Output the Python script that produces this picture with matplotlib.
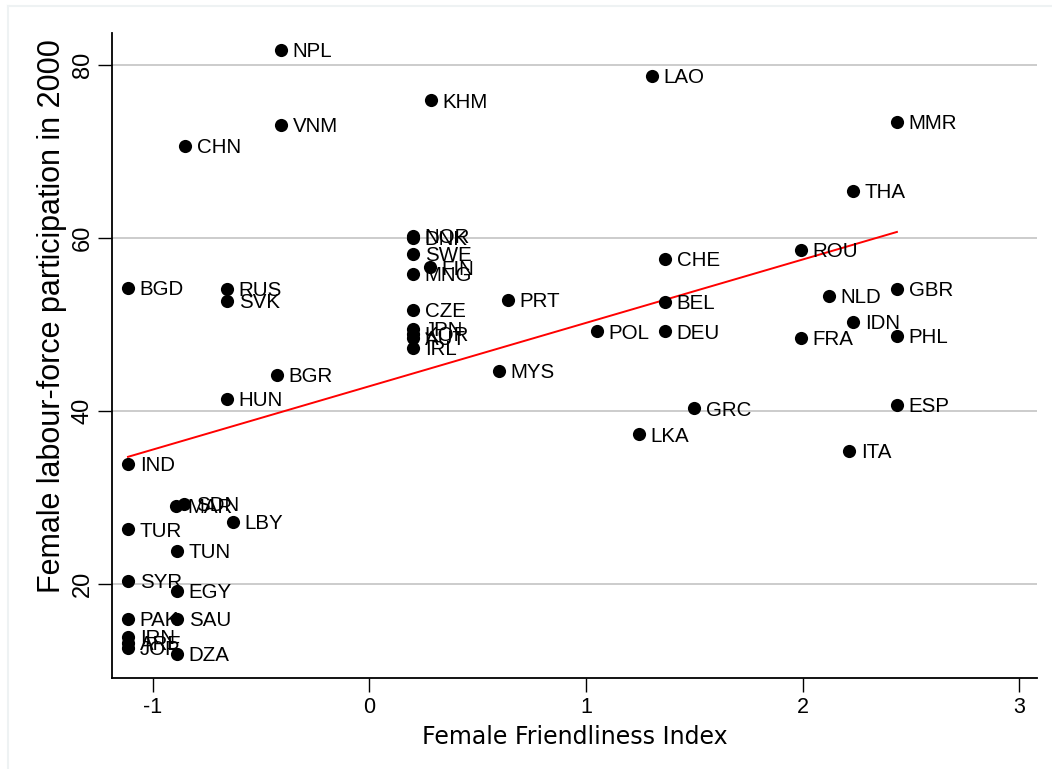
import numpy as np
import matplotlib
matplotlib.use("Agg")
import matplotlib.pyplot as plt
from matplotlib.lines import Line2D

plt.rcParams['font.family'] = ['Liberation Sans', 'DejaVu Sans']
plt.rcParams['axes.unicode_minus'] = False

countries = ["NPL", "VNM", "CHN", "KHM", "LAO", "MMR", "THA",
             "NOR", "DNK", "SWE", "FIN", "MNG", "CZE", "JPN", "KOR", "AUT", "IRL",
             "PRT", "MYS", "BGD", "RUS", "SVK", "BGR", "HUN", "IND",
             "SDN", "MAR", "LBY", "TUR", "TUN", "SYR", "EGY", "PAK", "SAU",
             "IRN", "ARE", "JOR", "DZA",
             "POL", "DEU", "BEL", "CHE", "LKA", "GRC",
             "ROU", "NLD", "FRA", "IDN", "ITA", "GBR", "PHL", "ESP"]
ffi = [-0.409, -0.409, -0.852, 0.284, 1.305, 2.436, 2.233,
       0.201, 0.201, 0.201, 0.279, 0.201, 0.201, 0.201, 0.201, 0.201, 0.201,
       0.640, 0.598, -1.115, -0.658, -0.658, -0.427, -0.658, -1.115,
       -0.857, -0.894, -0.630, -1.115, -0.889, -1.115, -0.889, -1.115, -0.889,
       -1.115, -1.115, -1.115, -0.889,
       1.051, 1.365, 1.365, 1.365, 1.245, 1.499,
       1.993, 2.122, 1.993, 2.233, 2.215, 2.436, 2.436, 2.436]
flfp = [81.7, 73.1, 70.6, 75.9, 78.7, 73.4, 65.4,
        60.2, 60.0, 58.2, 56.6, 55.8, 51.7, 49.5, 48.9, 48.4, 47.3,
        52.8, 44.6, 54.2, 54.1, 52.7, 44.2, 41.4, 33.9,
        29.3, 29.0, 27.2, 26.3, 23.8, 20.4, 19.2, 16.0, 16.0,
        13.9, 13.2, 12.6, 11.9,
        49.2, 49.2, 52.6, 57.6, 37.3, 40.3,
        58.6, 53.3, 48.4, 50.3, 35.4, 54.1, 48.7, 40.7]
# fitted line endpoints
fit_x = [-1.115, 2.436]
fit_y = [34.7, 60.7]
xticks = [-1, 0, 1, 2, 3]
yticks = [20, 40, 60, 80]

fig = plt.figure(figsize=(10.52, 7.69), dpi=100)
fig.patch.set_facecolor('white')
ax = fig.add_axes([112/1052, 1-678/769, (1037-112)/1052, (678-33)/769])

for yv in yticks:
    ax.axhline(yv, color='#cccccc', lw=1.4, zorder=0)

ax.scatter(ffi, flfp, s=90, color='black', zorder=3, linewidths=0)
for c, xv, yv in zip(countries, ffi, flfp):
    ax.annotate(c, (xv, yv), xytext=(8.5, -1.2), textcoords='offset points',
                ha='left', va='center', fontsize=14.8, color='black', zorder=4)

ax.plot(fit_x, fit_y, color='red', lw=1.4, zorder=2)

ax.set_xlim(-1.189, 3.083)
ax.set_ylim(9.13, 83.7)
ax.set_xticks(xticks)
ax.set_xticklabels([str(v) for v in xticks])
ax.set_yticks(yticks)
ax.set_yticklabels([str(v) for v in yticks], rotation=90, va='center')
ax.tick_params(axis='both', direction='out', length=10, width=1, color='black')
ax.tick_params(axis='x', pad=3.5, labelsize=15.5)
ax.tick_params(axis='y', pad=3, labelsize=17)
for s in ['top', 'right']:
    ax.spines[s].set_visible(False)
for s in ['left', 'bottom']:
    ax.spines[s].set_linewidth(1.3)
ax.set_xlabel('Female Friendliness Index', fontsize=17, family=['DejaVu Sans'], labelpad=5)
ax.set_ylabel('Female labour-force participation in 2000', fontsize=22)
ax.yaxis.set_label_coords(-0.049, 0.561)

fig.add_artist(Line2D([8/1052, 8/1052], [0, 1-6/769], color='#eef2f3', lw=1.5, transform=fig.transFigure))
fig.add_artist(Line2D([8/1052, 1], [1-6/769, 1-6/769], color='#eef2f3', lw=1.5, transform=fig.transFigure))

fig.savefig('out.png', dpi=100)
